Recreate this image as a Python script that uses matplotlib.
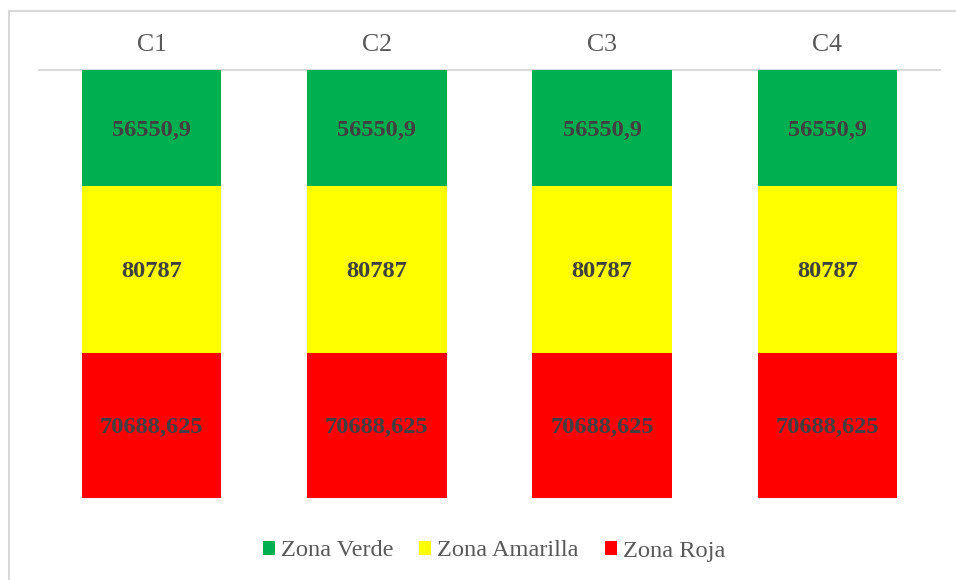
import matplotlib.pyplot as plt
from matplotlib.patches import Rectangle
import numpy as np

categories = ['C1', 'C2', 'C3', 'C4']
zona_roja = [70688.625, 70688.625, 70688.625, 70688.625]
zona_amarilla = [80787, 80787, 80787, 80787]
zona_verde = [56550.9, 56550.9, 56550.9, 56550.9]

plt.rcParams['font.family'] = ['Liberation Serif', 'DejaVu Serif']

W, H = 956, 580
fig = plt.figure(figsize=(W / 100, H / 100), dpi=100)
ax = fig.add_axes([39 / W, 1 - 498 / H, (940 - 39) / W, (498 - 70) / H])

x = np.arange(len(categories))
bar_w = 0.62
series = [
    ('Zona Roja', zona_roja, '#ff0000'),
    ('Zona Amarilla', zona_amarilla, '#ffff00'),
    ('Zona Verde', zona_verde, '#00b050'),
]

bottom = np.zeros(len(categories))
handles = {}
for name, vals, color in series:
    vals = np.array(vals, dtype=float)
    bars = ax.bar(x, vals, bar_w, bottom=bottom, color=color, label=name,
                  linewidth=0)
    handles[name] = bars
    for xi, b, v in zip(x, bottom, vals):
        ax.text(xi, b + v / 2, f'{v:.10g}'.replace('.', ','),
                ha='center', va='center_baseline', fontsize=17.6,
                fontweight='bold', color='#404040')
    bottom += vals

ax.set_xlim(-0.5, len(categories) - 0.5)
ax.set_ylim(0, bottom.max())
ax.set_yticks([])
ax.set_xticks(x)
ax.set_xticklabels(categories, fontsize=18.5, color='#595959')
ax.xaxis.tick_top()
ax.tick_params(axis='x', length=0, pad=10)
for side in ['left', 'right', 'bottom']:
    ax.spines[side].set_visible(False)
ax.spines['top'].set_color('#d9d9d9')
ax.spines['top'].set_linewidth(1.5)
ax.spines['top'].set_zorder(0)

order = ['Zona Verde', 'Zona Amarilla', 'Zona Roja']
leg = fig.legend([handles[n] for n in order], order, loc='center',
                 bbox_to_anchor=(494 / W, 1 - 551 / H), ncol=3, frameon=False,
                 fontsize=17.6, handlelength=0.5, handleheight=0.5,
                 handletextpad=0.25, columnspacing=1.05)
for t in leg.get_texts():
    t.set_color('#595959')

# chart area border
fig.patches.append(Rectangle((9 / W, -0.05), 1.2, 1 - 11 / H + 0.05,
                             transform=fig.transFigure, fill=False,
                             edgecolor='#d9d9d9', linewidth=1.5))

fig.savefig('out.png', dpi=100)
